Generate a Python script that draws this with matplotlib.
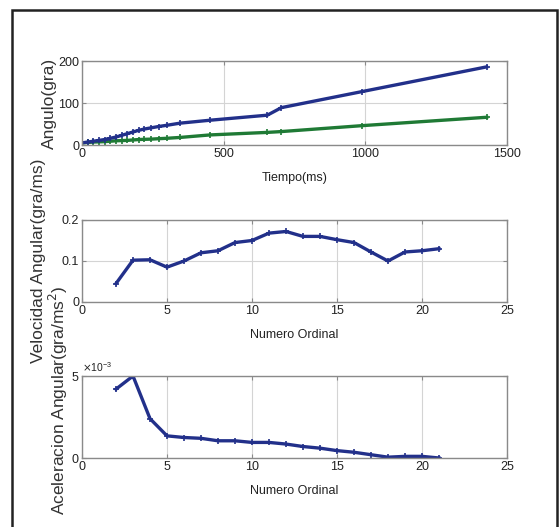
import matplotlib
matplotlib.use("Agg")
import matplotlib.pyplot as plt
from matplotlib.patches import Rectangle
from matplotlib.ticker import ScalarFormatter

# ---------------- data ----------------
tiempo_ms = [0, 20, 40, 60, 80, 100, 120, 140, 160, 180, 200, 220, 245, 270,
             300, 346, 452, 654, 704, 987, 1428]
angulo_azul = [5, 7, 9, 11, 13, 16, 19, 23, 27, 31, 35, 38, 41, 44,
               47, 52, 59, 71, 89, 127, 186]
angulo_verde = [5, 6, 7, 7.5, 8, 9, 10, 10.5, 11, 12, 13, 13.5, 14, 15,
                16, 18, 24, 30, 32, 46, 66]

ordinal = [2, 3, 4, 5, 6, 7, 8, 9, 10, 11, 12, 13, 14, 15, 16, 17, 18, 19, 20, 21]
velocidad = [0.045, 0.102, 0.103, 0.085, 0.100, 0.120, 0.125, 0.145, 0.150, 0.168,
             0.172, 0.160, 0.160, 0.152, 0.145, 0.122, 0.100, 0.122, 0.125, 0.130]
aceleracion = [4.2e-3, 5.0e-3, 2.4e-3, 1.35e-3, 1.25e-3, 1.2e-3, 1.05e-3, 1.05e-3,
               0.95e-3, 0.95e-3, 0.85e-3, 0.7e-3, 0.6e-3, 0.45e-3, 0.35e-3,
               0.2e-3, 0.05e-3, 0.1e-3, 0.1e-3, 0.0]

x1_ticks = [0, 500, 1000, 1500]
y1_ticks = [0, 100, 200]
x2_ticks = [0, 5, 10, 15, 20, 25]
y2_ticks = [0, 0.1, 0.2]
y3_ticks = [0, 0.005]

# ---------------- style ----------------
plt.rcParams['font.family'] = ['Liberation Sans', 'DejaVu Sans']

BLUE = '#22308a'
GREEN = '#1f7a35'
TXT = '#222222'
SPINE = '#8a8a8a'
GRID = '#d4d4d4'

W, H = 559, 527
fig = plt.figure(figsize=(W / 100, H / 100), dpi=100)

def ax_rect(l, t, r, b):
    return [l / W, 1 - b / H, (r - l) / W, (b - t) / H]

ax1 = fig.add_axes(ax_rect(82, 61, 507, 145))
ax2 = fig.add_axes(ax_rect(82, 220, 507, 302))
ax3 = fig.add_axes(ax_rect(82, 376, 507, 458))

def style(ax):
    for s in ax.spines.values():
        s.set_color(SPINE)
        s.set_linewidth(1.0)
    ax.tick_params(direction='in', length=3, width=0.8, color=SPINE,
                   labelsize=9, labelcolor=TXT, pad=2, top=True, right=True)
    ax.grid(True, color=GRID, linewidth=0.8)
    ax.set_axisbelow(True)

# Top plot
ax1.plot(tiempo_ms, angulo_verde, color=GREEN, lw=2.4, marker='+', ms=5, mew=1.2)
ax1.plot(tiempo_ms, angulo_azul, color=BLUE, lw=2.4, marker='+', ms=5, mew=1.2)
ax1.set_xlim(0, 1500)
ax1.set_ylim(0, 200)
ax1.set_xticks(x1_ticks)
ax1.set_yticks(y1_ticks)
style(ax1)
ax1.set_xlabel('Tiempo(ms)', fontsize=9, color=TXT, labelpad=9)

# Middle plot
ax2.plot(ordinal, velocidad, color=BLUE, lw=2.4, marker='+', ms=5, mew=1.2)
ax2.set_xlim(0, 25)
ax2.set_ylim(0, 0.2)
ax2.set_xticks(x2_ticks)
ax2.set_yticks(y2_ticks)
ax2.set_yticklabels(['0', '0.1', '0.2'])
style(ax2)
ax2.set_xlabel('Numero Ordinal', fontsize=9, color=TXT, labelpad=9)

# Bottom plot
ax3.plot(ordinal, aceleracion, color=BLUE, lw=2.4, marker='+', ms=5, mew=1.2)
ax3.set_xlim(0, 25)
ax3.set_ylim(0, 0.005)
ax3.set_xticks(x2_ticks)
ax3.set_yticks(y3_ticks)
fmt = ScalarFormatter(useMathText=True)
fmt.set_powerlimits((-2, 2))
ax3.yaxis.set_major_formatter(fmt)
style(ax3)
ax3.yaxis.get_offset_text().set_fontsize(7.5)
ax3.yaxis.get_offset_text().set_color(TXT)
ax3.set_xlabel('Numero Ordinal', fontsize=9, color=TXT, labelpad=9)

# Y labels (rotated)
lab_font = dict(fontsize=12.5, color='#333333')
ax1.set_ylabel('Angulo(gra)', **lab_font)
ax1.yaxis.set_label_coords((57 - 82) / 425, 0.5)
ax2.set_ylabel('Velocidad Angular(gra/ms)', **lab_font)
ax2.yaxis.set_label_coords((46 - 82) / 425, 0.5)
ax3.set_ylabel('Aceleracion Angular(gra/ms$^2$)', **lab_font)
ax3.yaxis.set_label_coords((70 - 82) / 425, 0.71)

# Outer frame
fig.patches.append(Rectangle((12 / W, -0.05), (557 - 12) / W, 1 - 10 / H + 0.05,
                             transform=fig.transFigure, fill=False,
                             edgecolor='#222222', linewidth=1.8, clip_on=False))

fig.savefig('out.png', dpi=100, facecolor='white')
